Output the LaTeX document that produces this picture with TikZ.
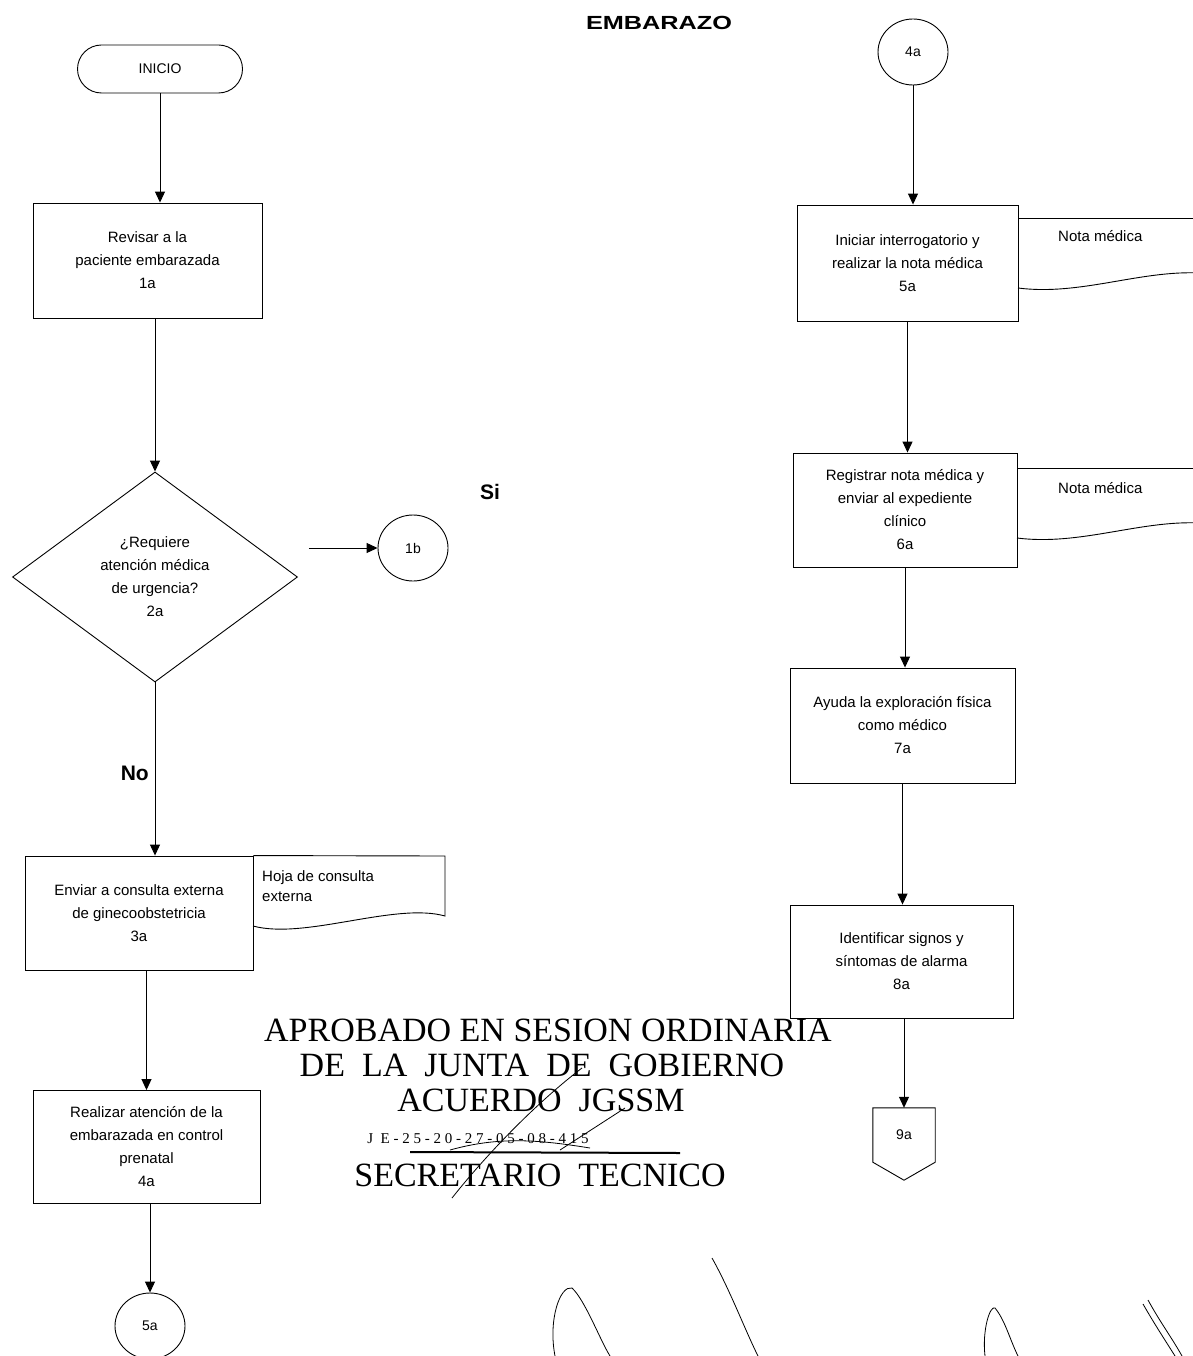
\documentclass[tikz,border=0pt]{standalone}
\usepackage{fontspec}
\setmainfont{Liberation Sans}
\newfontfamily\stampfont{Liberation Serif}
\usetikzlibrary{shapes.geometric,arrows.meta,calc}
\begin{document}
\begin{tikzpicture}[x=1pt,y=-1pt,
  every node/.style={inner sep=0pt},
  box/.style={draw, line width=0.9pt, align=center, font=\fontsize{15}{23}\selectfont},
  doctext/.style={align=left, anchor=north west, font=\fontsize{15}{20}\selectfont},
  docline/.style={line width=0.9pt},
  flow/.style={line width=1pt, -{Triangle[width=10pt,length=11pt]}},
  conn/.style={ellipse, draw, line width=0.9pt, font=\fontsize{14}{16}\selectfont, minimum width=70pt, minimum height=66pt},
  lbl/.style={font=\bfseries\fontsize{21}{24}\selectfont},
  stamp/.style={font=\stampfont\fontsize{34}{36}\selectfont},
  sig/.style={line width=0.8pt}]
\useasboundingbox (0,0) rectangle (1192,1356);

% title
\node[font=\bfseries\fontsize{19}{22}\selectfont] (title) at (659,23) {\scalebox{1.33}[1]{EMBARAZO}};

% ---------------- left column
\node[draw, line width=0.9pt, rounded corners=24pt, minimum width=165pt, minimum height=48pt,
      font=\fontsize{14}{16}\selectfont] (inicio) at (160,69) {INICIO};
\node[box, minimum width=229pt, minimum height=115pt] (a1) at (147.5,260.5)
  {Revisar a la\\paciente embarazada\\1a};
\node[diamond, draw, line width=0.9pt, minimum width=285pt, minimum height=210pt, align=center,
      font=\fontsize{15}{23}\selectfont] (a2) at (155,577)
  {¿Requiere\\atención médica\\de urgencia?\\2a};
\node[conn] (c1b) at (413,548) {1b};
\node[lbl] (si) at (490,492) {Si};
\node[box, minimum width=228pt, minimum height=114pt] (a3) at (139,913)
  {Enviar a consulta externa\\de ginecoobstetricia\\3a};
\node[doctext] (d3) at (262,870) {Hoja de consulta\\externa};
\node[box, minimum width=227pt, minimum height=113pt] (a4) at (146.5,1147)
  {Realizar atención de la\\embarazada en control\\prenatal\\4a};
\node[conn] (c5a) at (150,1326) {5a};
\node[lbl, anchor=east] (no) at (149,773) {No};

% document outline of 3a
\coordinate (d3ne) at (445,856);
\coordinate (d3se) at (445,916);
\coordinate (d3sw) at (253,926);
\draw[docline] (a3.north east) -- (d3ne) -- (d3se)
  .. controls (395,902) and (305,940) .. (d3sw);

\draw[flow] (inicio.south) -- (inicio.south |- a1.north);
\draw[flow] (a2.north |- a1.south) -- (a2.north);
\draw[flow] ($(c1b.west -| a2.east)+(11,0)$) -- (c1b.west);
\draw[flow] (a2.south) -- (a2.south |- a3.north);
\draw[flow] (a4.north |- a3.south) -- (a4.north);
\draw[flow] (c5a.north |- a4.south) -- (c5a.north);

% ---------------- right column
\node[conn] (c4a) at (913,52) {4a};
\node[box, minimum width=221pt, minimum height=116pt] (a5) at (907.5,263)
  {Iniciar interrogatorio y\\realizar la nota médica\\5a};
\node[doctext] (d5) at (1058,230) {Nota médica};
\node[box, minimum width=224pt, minimum height=114pt] (a6) at (905,510)
  {Registrar nota médica y\\enviar al expediente\\clínico\\6a};
\node[doctext] (d6) at (1058,482) {Nota médica};
\node[box, minimum width=225pt, minimum height=115pt] (a7) at (902.5,725.5)
  {Ayuda la exploración física\\como médico\\7a};
\node[box, minimum width=223pt, minimum height=113pt] (a8) at (901.5,961.5)
  {Identificar signos y\\síntomas de alarma\\8a};
\node[minimum width=62pt, minimum height=54pt, font=\fontsize{14}{16}\selectfont] (c9a) at (904,1135) {9a};
\draw[line width=0.9pt] (c9a.north west) -- (c9a.north east) -- (c9a.south east)
  -- ($(c9a.south)+(0,18)$) -- (c9a.south west) -- cycle;

% document outlines on the right
\coordinate (d5ne) at (1200,218);
\coordinate (d5se) at (1200,273);
\coordinate (d5sw) at (1018,288);
\draw[docline] (a5.east |- d5ne) -- (d5ne);
\draw[docline] (d5sw) .. controls (1080,296) and (1140,270) .. (d5se);
\coordinate (d6ne) at (1200,468);
\coordinate (d6se) at (1200,523);
\coordinate (d6sw) at (1017,538);
\draw[docline] (a6.east |- d6ne) -- (d6ne);
\draw[docline] (d6sw) .. controls (1080,546) and (1140,520) .. (d6se);

\draw[flow] (c4a.south) -- (c4a.south |- a5.north);
\draw[flow] (a5.south) -- (a5.south |- a6.north);
\draw[flow] (a6.south) -- (a6.south |- a7.north);
\draw[flow] (a7.south) -- (a7.south |- a8.north);
\draw[flow] (c9a.north |- a8.south) -- (c9a.north);

% ---------------- stamp
\node[stamp] (s1) at (548,1030) {APROBADO EN SESION ORDINARIA};
\node[stamp] (s2) at (542,1065) {DE\ \ LA\ \ JUNTA\ \ DE\ \ GOBIERNO};
\node[stamp] (s3) at (541,1100) {ACUERDO\ \ JGSSM};
\node[font=\stampfont\fontsize{15}{16}\selectfont] (s4) at (478,1139)
  {J\ \ E\ -\ 2\ 5\ -\ 2\ 0\ -\ 2\ 7\ -\ 0\ 5\ -\ 0\ 8\ -\ 4\ 1\ 5};
\coordinate (rule1) at (410,1152);
\coordinate (rule2) at (680,1153);
\draw[line width=2pt] (rule1) -- (rule2);
\node[stamp] (s5) at (540,1175) {SECRETARIO\ \ TECNICO};

% signature strokes
\draw[sig] (452,1198) .. controls (490,1150) and (540,1100) .. (582,1068);
\draw[sig] (560,1150) -- (625,1108);
\draw[sig] (450,1150) .. controls (500,1136) and (540,1140) .. (590,1148);
\draw[sig] (555,1356) .. controls (548,1320) and (560,1285) .. (572,1288)
  .. controls (585,1300) and (600,1340) .. (610,1356);
\draw[sig] (712,1258) .. controls (730,1290) and (745,1330) .. (758,1356);
\draw[sig] (985,1356) .. controls (982,1330) and (990,1305) .. (995,1308)
  .. controls (1005,1320) and (1010,1340) .. (1018,1356);
\draw[sig] (1143,1304) .. controls (1155,1325) and (1165,1340) .. (1175,1356);
\draw[sig] (1148,1300) .. controls (1160,1322) and (1172,1338) .. (1182,1356);
\end{tikzpicture}
\end{document}
